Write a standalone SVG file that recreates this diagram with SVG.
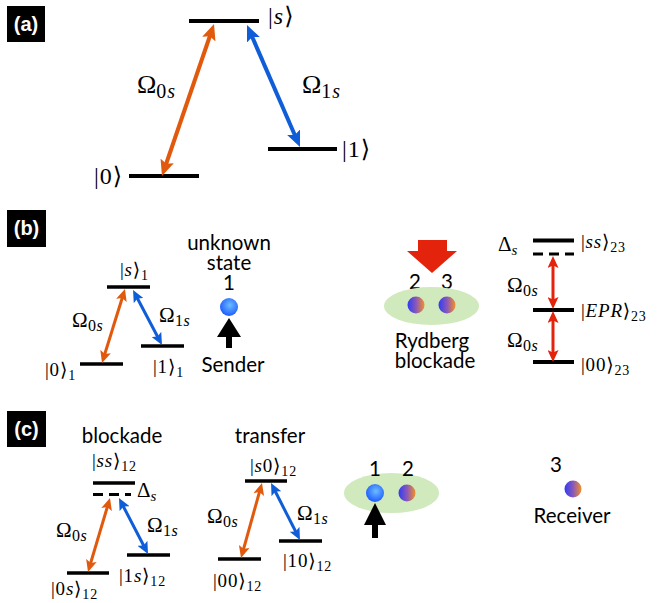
<svg xmlns="http://www.w3.org/2000/svg" width="664" height="603" viewBox="0 0 664 603">
<style>
.m{font-family:"Liberation Serif","DejaVu Serif",serif;fill:#000}
.k{font-size:19px;letter-spacing:0.8px}
.ks{font-size:14px}
.w{font-size:21px;letter-spacing:0.5px}
.ws{font-size:16px}
.i{font-style:italic}
.t{font-family:Lato,"Liberation Sans",sans-serif;fill:#000;text-anchor:middle;font-size:20.5px}
.lvl{stroke:#000;stroke-width:4;fill:none}
.lvs{stroke:#000;stroke-width:3.5;fill:none}
.dash{stroke:#000;stroke-width:3;stroke-dasharray:10,6;fill:none}
.oa{stroke:#e0590c;stroke-width:4;fill:none;marker-start:url(#hoA);marker-end:url(#hoA)}
.ba{stroke:#0f5ed8;stroke-width:4;fill:none;marker-start:url(#hbA);marker-end:url(#hbA)}
.ob{stroke:#e0590c;stroke-width:3;fill:none;marker-start:url(#hoB);marker-end:url(#hoB)}
.bb{stroke:#0f5ed8;stroke-width:3;fill:none;marker-start:url(#hbB);marker-end:url(#hbB)}
.rb{stroke:#e4230c;stroke-width:3;fill:none;marker-start:url(#hrB);marker-end:url(#hrB)}
.box{fill:#000}
.bl{font-family:"Liberation Sans",Arial,sans-serif;font-weight:bold;font-size:20px;fill:#fff;text-anchor:middle}
.ell{fill:#d0e9bd}
</style>
<defs>
<marker id="hoA" markerUnits="userSpaceOnUse" viewBox="0 0 16 14" markerWidth="16" markerHeight="14" refX="7" refY="7" orient="auto-start-reverse"><path d="M0,0 L16,7 L0,14 L3,7 z" fill="#e0590c"/></marker>
<marker id="hbA" markerUnits="userSpaceOnUse" viewBox="0 0 16 14" markerWidth="16" markerHeight="14" refX="7" refY="7" orient="auto-start-reverse"><path d="M0,0 L16,7 L0,14 L3,7 z" fill="#0f5ed8"/></marker>
<marker id="hoB" markerUnits="userSpaceOnUse" viewBox="0 0 12 11" markerWidth="12" markerHeight="11" refX="5" refY="5.5" orient="auto-start-reverse"><path d="M0,0 L12,5.5 L0,11 L2.5,5.5 z" fill="#e0590c"/></marker>
<marker id="hbB" markerUnits="userSpaceOnUse" viewBox="0 0 12 11" markerWidth="12" markerHeight="11" refX="5" refY="5.5" orient="auto-start-reverse"><path d="M0,0 L12,5.5 L0,11 L2.5,5.5 z" fill="#0f5ed8"/></marker>
<marker id="hrB" markerUnits="userSpaceOnUse" viewBox="0 0 12 11" markerWidth="12" markerHeight="11" refX="5" refY="5.5" orient="auto-start-reverse"><path d="M0,0 L12,5.5 L0,11 L2.5,5.5 z" fill="#e4230c"/></marker>
<linearGradient id="gb" x1="0" y1="0" x2="1" y2="0"><stop offset="0" stop-color="#2f3cf5"/><stop offset="0.5" stop-color="#8a58b8"/><stop offset="1" stop-color="#f39028"/></linearGradient>
<radialGradient id="blue" cx="0.55" cy="0.4" r="0.6"><stop offset="0" stop-color="#6cbcff"/><stop offset="1" stop-color="#1d5cff"/></radialGradient>
</defs>

<!-- Panel labels -->
<g id="label-a"><rect class="box" x="7" y="6" width="38" height="36"/><text class="bl" x="26" y="31">(a)</text></g>
<g id="label-b"><rect class="box" x="7" y="210" width="39" height="37"/><text class="bl" x="26.5" y="235">(b)</text></g>
<g id="label-c"><rect class="box" x="7" y="411" width="39" height="36"/><text class="bl" x="26.5" y="436">(c)</text></g>

<!-- Panel (a) -->
<g id="a-s"><line class="lvl" x1="189" y1="21" x2="259" y2="21"/><text class="m" x="268" y="24" font-size="24" letter-spacing="1">|<tspan class="i">s</tspan>⟩</text></g>
<g id="a-0"><line class="lvl" x1="129" y1="176" x2="199" y2="176"/><text class="m" x="94" y="184" font-size="24" letter-spacing="1">|0⟩</text></g>
<g id="a-1"><line class="lvl" x1="268" y1="149" x2="337" y2="149"/><text class="m" x="342" y="157" font-size="24" letter-spacing="1">|1⟩</text></g>
<g id="a-labels">
<text class="m" x="137" y="93" font-size="26">Ω<tspan font-size="20" dy="5" letter-spacing="1">0</tspan><tspan class="i" font-size="20">s</tspan></text>
<text class="m" x="302" y="93" font-size="26">Ω<tspan font-size="20" dy="5" letter-spacing="1">1</tspan><tspan class="i" font-size="20">s</tspan></text>
</g>

<!-- Panel (b) left -->
<g id="b-s1"><line class="lvs" x1="107" y1="287" x2="150" y2="287"/><text class="m k" x="120" y="276">|<tspan class="i">s</tspan>⟩<tspan class="ks" dy="4">1</tspan></text></g>
<g id="b-01"><line class="lvs" x1="80" y1="364" x2="123" y2="364"/><text class="m k" x="45" y="376">|0⟩<tspan class="ks" dy="4">1</tspan></text></g>
<g id="b-11"><line class="lvs" x1="141" y1="346" x2="184" y2="346"/><text class="m k" x="153" y="373">|1⟩<tspan class="ks" dy="4">1</tspan></text></g>
<g id="b-omegas">
<text class="m w" x="72" y="327">Ω<tspan class="ws" dy="4">0</tspan><tspan class="i ws">s</tspan></text>
<text class="m w" x="159" y="322">Ω<tspan class="ws" dy="4">1</tspan><tspan class="i ws">s</tspan></text>
</g>
<g id="b-sender">
<text class="t" x="229" y="250">unknown<tspan x="229" dy="20">state</tspan><tspan x="229" dy="20">1</tspan></text>
<circle cx="229" cy="307" r="9" fill="url(#blue)"/>
<polygon points="229,318 241,337 232,337 232,348 226,348 226,337 217,337" fill="#000"/>
<text class="t" x="233" y="372">Sender</text>
</g>

<!-- Panel (b) middle -->
<g id="b-blockade">
<polygon points="418,240 447,240 447,251 457,251 432,273 407,251 418,251" fill="#e4230c"/>
<text class="t" x="415" y="289">2</text>
<text class="t" x="447" y="289">3</text>
<ellipse class="ell" cx="431.5" cy="306" rx="47.5" ry="19"/>
<circle cx="416" cy="305" r="8.5" fill="url(#gb)"/>
<circle cx="447" cy="305" r="8.5" fill="url(#gb)"/>
<text class="t" x="432" y="348">Rydberg<tspan x="435" dy="20">blockade</tspan></text>
</g>

<!-- Panel (b) right -->
<g id="b-ss23"><line class="lvl" x1="533" y1="240.5" x2="574" y2="240.5"/><line class="dash" x1="533" y1="254" x2="574" y2="254"/>
<text class="m" x="498" y="251" font-size="21">Δ<tspan class="i" font-size="15" dy="4">s</tspan></text>
<text class="m k" x="581" y="248">|<tspan class="i">ss</tspan>⟩<tspan class="ks" dy="4">23</tspan></text></g>
<g id="b-epr"><line class="lvl" x1="533" y1="310" x2="574" y2="310"/><text class="m k" x="581" y="317">|<tspan class="i">EPR</tspan>⟩<tspan class="ks" dy="4">23</tspan></text></g>
<g id="b-00"><line class="lvl" x1="533" y1="362" x2="574" y2="362"/><text class="m k" x="581" y="371">|00⟩<tspan class="ks" dy="4">23</tspan></text></g>
<g id="b-omegas-r">
<text class="m w" x="507" y="292">Ω<tspan class="ws" dy="4">0</tspan><tspan class="i ws">s</tspan></text>
<text class="m w" x="507" y="347">Ω<tspan class="ws" dy="4">0</tspan><tspan class="i ws">s</tspan></text>
</g>

<!-- Panel (c) blockade -->
<g id="c-blockade">
<text class="t" x="122" y="443">blockade</text>
<text class="m k" x="92" y="467">|<tspan class="i">ss</tspan>⟩<tspan class="ks" dy="4">12</tspan></text>
<line class="lvs" x1="93" y1="483" x2="135" y2="483"/>
<line class="dash" x1="93" y1="494.5" x2="131" y2="494.5" stroke-dasharray="9,6"/>
<text class="m" x="137" y="497" font-size="21">Δ<tspan class="i" font-size="15" dy="4">s</tspan></text>
</g>
<g id="c-0s"><line class="lvs" x1="67" y1="573" x2="109" y2="573"/><text class="m k" x="51" y="595">|0<tspan class="i">s</tspan>⟩<tspan class="ks" dy="4">12</tspan></text></g>
<g id="c-1s"><line class="lvs" x1="127" y1="555" x2="170" y2="555"/><text class="m k" x="119" y="582">|1<tspan class="i">s</tspan>⟩<tspan class="ks" dy="4">12</tspan></text></g>
<g id="c-omegas1">
<text class="m w" x="56" y="537">Ω<tspan class="ws" dy="4">0</tspan><tspan class="i ws">s</tspan></text>
<text class="m w" x="147" y="532">Ω<tspan class="ws" dy="4">1</tspan><tspan class="i ws">s</tspan></text>
</g>

<!-- Panel (c) transfer -->
<g id="c-transfer">
<text class="t" x="270" y="443">transfer</text>
<text class="m k" x="250" y="472">|<tspan class="i">s</tspan>0⟩<tspan class="ks" dy="4">12</tspan></text>
<line class="lvs" x1="245" y1="481" x2="287" y2="481"/>
</g>
<g id="c-00"><line class="lvs" x1="218" y1="559" x2="261" y2="559"/><text class="m k" x="213" y="587">|00⟩<tspan class="ks" dy="4">12</tspan></text></g>
<g id="c-10"><line class="lvs" x1="279" y1="541" x2="322" y2="541"/><text class="m k" x="283" y="567">|10⟩<tspan class="ks" dy="4">12</tspan></text></g>
<g id="c-omegas2">
<text class="m w" x="207" y="523">Ω<tspan class="ws" dy="4">0</tspan><tspan class="i ws">s</tspan></text>
<text class="m w" x="297" y="520">Ω<tspan class="ws" dy="4">1</tspan><tspan class="i ws">s</tspan></text>
</g>

<!-- Panel (c) atoms -->
<g id="c-atoms12">
<ellipse class="ell" cx="391.5" cy="493" rx="47.5" ry="20"/>
<text class="t" x="375" y="476">1</text>
<text class="t" x="408" y="476">2</text>
<circle cx="375" cy="493" r="9" fill="url(#blue)"/>
<circle cx="407" cy="493" r="8.5" fill="url(#gb)"/>
<polygon points="375,503 386,525 378,525 378,538 372,538 372,525 364,525" fill="#000"/>
</g>
<g id="c-receiver">
<text class="t" x="556" y="472">3</text>
<circle cx="573" cy="489" r="8.5" fill="url(#gb)"/>
<text class="t" x="572" y="523">Receiver</text>
</g>

<!-- Connectors -->
<g id="connectors">
<line class="oa" x1="164.9" y1="167.5" x2="211.1" y2="32.5"/>
<line class="ba" x1="250.6" y1="33.3" x2="296.4" y2="138.7"/>
<line class="ob" x1="104.1" y1="356.3" x2="122.9" y2="295.7"/>
<line class="bb" x1="136.3" y1="296.2" x2="158.7" y2="338.8"/>
<line class="rb" x1="553" y1="263" x2="553" y2="302"/>
<line class="rb" x1="553" y1="318" x2="553" y2="355"/>
<line class="ob" x1="90" y1="565.3" x2="108" y2="504.7"/>
<line class="bb" x1="122.2" y1="504.2" x2="144.8" y2="547.8"/>
<line class="ob" x1="242.9" y1="551.3" x2="260.1" y2="489.7"/>
<line class="bb" x1="274.2" y1="489.2" x2="296.8" y2="533.8"/>
</g>
</svg>
